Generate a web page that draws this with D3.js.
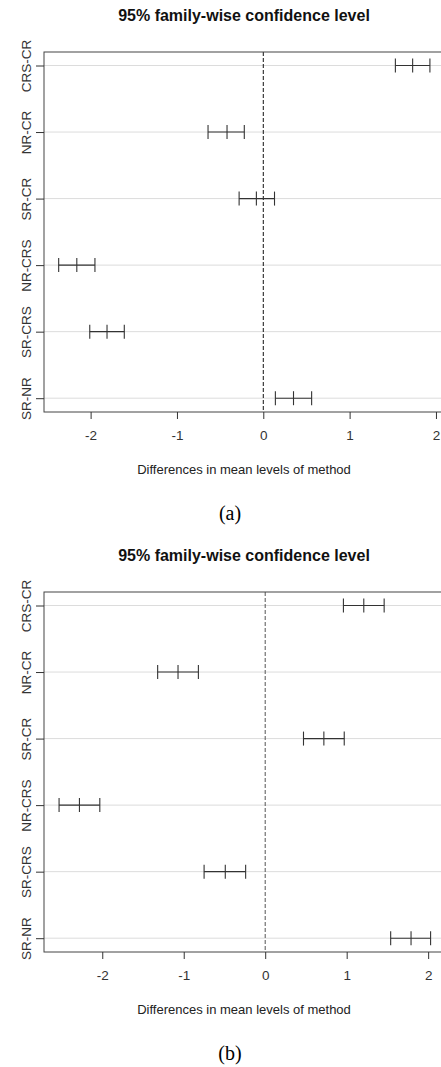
<!DOCTYPE html>
<html>
<head>
<meta charset="utf-8">
<script src="https://cdn.jsdelivr.net/npm/d3@7"></script>
<style>
  body { margin: 0; background: #fff; }
  svg { display: block; }
</style>
</head>
<body>
<svg id="chart" width="441" height="1067"></svg>
<script>
// Tukey HSD comparisons
const comparisons = ["CRS-CR", "NR-CR", "SR-CR", "NR-CRS", "SR-CRS", "SR-NR"];
const xTicks = [-2, -1, 0, 1, 2];

const lwrA = [1.53, -0.64, -0.28, -2.37, -2.01, 0.14];
const diffA = [1.73, -0.42, -0.08, -2.16, -1.81, 0.35];
const uprA = [1.93, -0.22, 0.13, -1.95, -1.61, 0.56];

const lwrB = [0.96, -1.32, 0.47, -2.53, -0.75, 1.54];
const diffB = [1.21, -1.07, 0.72, -2.28, -0.49, 1.79];
const uprB = [1.46, -0.82, 0.97, -2.03, -0.24, 2.03];

const title = "95% family-wise confidence level";
const xTitle = "Differences in mean levels of method";

const svg = d3.select("#chart");
const sans = "Liberation Sans, Arial, sans-serif";

function panel(top, xDomain, lwr, diff, upr, caption, zeroColor) {
  const left = 44, right = 442, plotTop = top + 37, plotBottom = top + 397;
  const g = svg.append("g");

  const x = d3.scaleLinear().domain(xDomain).range([left, right]);
  const y = d3.scalePoint().domain(comparisons).range([plotTop + 13.5, plotBottom - 13.8]);

  g.append("text")
    .attr("x", 244).attr("y", top + 5.5)
    .attr("text-anchor", "middle")
    .attr("font-family", sans)
    .attr("font-weight", "bold").attr("font-size", 16)
    .attr("fill", "#111")
    .text(title);

  // grid lines
  g.selectAll("line.grid").data(comparisons).join("line")
    .attr("class", "grid")
    .attr("x1", left).attr("x2", right)
    .attr("y1", d => y(d)).attr("y2", d => y(d))
    .attr("stroke", "#dcdcdc").attr("stroke-width", 1);

  // zero line
  g.append("line")
    .attr("x1", x(0)).attr("x2", x(0))
    .attr("y1", plotTop).attr("y2", plotBottom)
    .attr("stroke", zeroColor).attr("stroke-width", 1)
    .attr("stroke-dasharray", "4,2");

  // intervals
  const rows = comparisons.map((c, i) => ({ c, lwr: lwr[i], diff: diff[i], upr: upr[i] }));
  const bars = g.selectAll("g.ci").data(rows).join("g").attr("class", "ci")
    .attr("stroke", "#333").attr("stroke-width", 1.1);
  bars.append("line")
    .attr("x1", d => x(d.lwr)).attr("x2", d => x(d.upr))
    .attr("y1", d => y(d.c)).attr("y2", d => y(d.c));
  ["lwr", "diff", "upr"].forEach(k => {
    bars.append("line")
      .attr("x1", d => x(d[k])).attr("x2", d => x(d[k]))
      .attr("y1", d => y(d.c) - 7).attr("y2", d => y(d.c) + 7);
  });

  // box
  g.append("rect")
    .attr("x", left).attr("y", plotTop)
    .attr("width", right - left).attr("height", plotBottom - plotTop)
    .attr("fill", "none").attr("stroke", "#444").attr("stroke-width", 1);

  // x axis
  const xa = g.append("g")
    .attr("transform", `translate(0,${plotBottom})`)
    .call(d3.axisBottom(x).tickValues(xTicks).tickSize(7).tickPadding(11).tickFormat(d => String(d)));
  xa.select(".domain").remove();
  xa.selectAll("line").attr("stroke", "#333");
  xa.selectAll("text")
    .attr("font-family", sans)
    .attr("font-size", 13.5).attr("fill", "#333");

  // y axis with rotated labels
  const ya = g.append("g")
    .attr("transform", `translate(${left},0)`)
    .call(d3.axisLeft(y).tickSize(8));
  ya.select(".domain").remove();
  ya.selectAll("line").attr("stroke", "#333");
  ya.selectAll("text")
    .attr("transform", "rotate(-90)")
    .attr("x", 0).attr("y", -18).attr("dy", "0.35em")
    .attr("text-anchor", "middle")
    .attr("font-family", sans)
    .attr("font-size", 13.5).attr("fill", "#333");

  g.append("text")
    .attr("x", 244).attr("y", plotBottom + 62)
    .attr("text-anchor", "middle")
    .attr("font-family", sans)
    .attr("font-size", 13).attr("fill", "#222")
    .text(xTitle);

  g.append("text")
    .attr("x", 230).attr("y", plotBottom + 108)
    .attr("text-anchor", "middle")
    .attr("font-family", "Liberation Serif, Times New Roman, serif")
    .attr("font-size", 20).attr("fill", "#000")
    .text(caption);
}

panel(15, [-2.54, 2.07], lwrA, diffA, uprA, "(a)", "#111");
panel(555, [-2.715, 2.17], lwrB, diffB, uprB, "(b)", "#555");
</script>
</body>
</html>
